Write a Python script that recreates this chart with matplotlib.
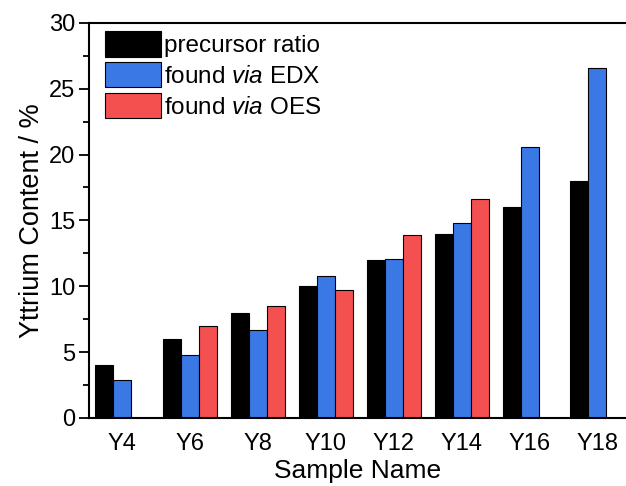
import numpy as np
import matplotlib
matplotlib.use("Agg")
import matplotlib.pyplot as plt

plt.rcParams['font.family'] = ['Liberation Sans', 'DejaVu Sans']
plt.rcParams['mathtext.fontset'] = 'custom'
plt.rcParams['mathtext.rm'] = 'Liberation Sans'
plt.rcParams['mathtext.it'] = 'Liberation Sans:italic'

samples = ['Y4', 'Y6', 'Y8', 'Y10', 'Y12', 'Y14', 'Y16', 'Y18']
precursor = [4, 6, 8, 10, 12, 14, 16, 18]
edx = [2.9, 4.8, 6.7, 10.8, 12.1, 14.8, 20.6, 26.6]
oes = [np.nan, 7.0, 8.5, 9.75, 13.9, 16.6, np.nan, np.nan]

fig = plt.figure(figsize=(6.26, 4.86), dpi=100)
ax = fig.add_axes([0.142, 0.14, 0.858, 0.813])

x = np.arange(len(samples))
w = 0.265
ax.bar(x - w, precursor, w, color='black', edgecolor='black', lw=0.8, label='precursor ratio')
ax.bar(x, edx, w, color='#3a78e6', edgecolor='black', lw=0.8, label='found $\\it{via}$ EDX')
ax.bar(x + w, oes, w, color='#f55050', edgecolor='black', lw=0.8, label='found $\\it{via}$ OES')

ax.set_xlim(-0.49, 7.42)
ax.set_ylim(0, 30)
ax.set_xticks(x)
ax.set_xticklabels(samples)
ax.set_yticks([0, 5, 10, 15, 20, 25, 30])
ax.set_yticks(np.arange(2.5, 30, 5), minor=True)
ax.tick_params(axis='y', which='major', direction='out', length=7, width=1.3, labelsize=17, pad=3)
ax.tick_params(axis='y', which='minor', direction='out', length=4, width=1.3)
ax.tick_params(axis='x', length=0, labelsize=17, pad=11)
for s in ['left', 'bottom', 'top']:
    ax.spines[s].set_linewidth(1.5)
ax.spines['right'].set_visible(False)

ax.set_xlabel('Sample Name', fontsize=19, labelpad=3)
ax.set_ylabel('Yttrium Content / %', fontsize=19.5, labelpad=3)

ax.legend(loc='upper left', frameon=False, fontsize=17.5, handlelength=2.3,
          handleheight=1.25, labelspacing=0.2, handletextpad=0.15,
          borderpad=0, borderaxespad=0, bbox_to_anchor=(16 / 537, 1 - 8 / 395))

plt.savefig('out.png', dpi=100)
